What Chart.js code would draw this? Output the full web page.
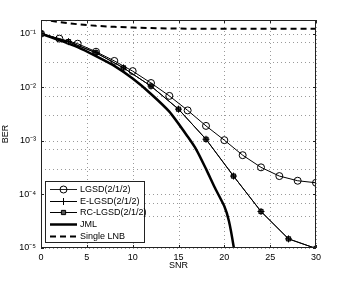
<!DOCTYPE html>
<html>
<head>
  <meta charset="UTF-8">
  <title>BER vs SNR</title>
  <script src="https://cdn.jsdelivr.net/npm/chart.js"></script>
  <style>
    html, body { margin: 0; padding: 0; background: #fff; }
    #wrap { width: 339px; height: 283px; position: relative; }
  </style>
</head>
<body>
  <div id="wrap"><canvas id="berChart"></canvas></div>
  <script>
    // values
    const snrLgsd = [0, 2, 4, 6, 8, 10, 12, 14, 16, 18, 20, 22, 24, 26, 28, 30];
    const berLgsd = [0.1, 0.081, 0.065, 0.046, 0.031, 0.020, 0.012, 0.0069, 0.0037, 0.0019, 0.00103, 0.00054, 0.00032, 0.00022, 0.00018, 0.000165];
    const snrRc = [0, 3, 6, 9, 12, 15, 18, 21, 24, 27, 30];
    const berELgsd = [0.1, 0.071, 0.044, 0.023, 0.0105, 0.0039, 0.00107, 0.00022, 0.000048, 0.0000148, 0.0000098];
    const berRcLgsd = [0.1, 0.071, 0.044, 0.023, 0.0105, 0.0039, 0.00107, 0.00022, 0.000048, 0.0000148, 0.0000098];
    const snrJml = [0, 2, 4, 6, 8, 10, 12, 14, 16, 17, 18, 19, 20, 20.5, 21, 21.3];
    const berJml = [0.1, 0.076, 0.056, 0.038, 0.025, 0.0145, 0.0075, 0.0035, 0.0012, 0.00066, 0.0003, 0.00013, 0.00006, 0.000032, 0.000011, 0.0000045];
    const snrLnb = [0, 2, 4, 6, 8, 10, 12, 14, 16, 20, 25, 30];
    const berLnb = [0.185, 0.165, 0.15, 0.14, 0.134, 0.13, 0.127, 0.125, 0.124, 0.124, 0.124, 0.124];
    const xTicks = [0, 5, 10, 15, 20, 25, 30];
    const yMajor = [-1, -2, -3, -4, -5];
    const supers = { '-': '⁻', '1': '¹', '2': '²', '3': '³', '4': '⁴', '5': '⁵' };

    const pts = (xs, ys) => xs.map((x, i) => ({ x: x, y: ys[i] }));

    const datasets = [
      { label: 'LGSD(2/1/2)', data: pts(snrLgsd, berLgsd), borderColor: '#000', borderWidth: 1,
        pointStyle: 'circle', pointRadius: 3.5, pointBorderColor: '#000', pointBackgroundColor: 'rgba(0,0,0,0)', pointBorderWidth: 1 },
      { label: 'E-LGSD(2/1/2)', data: pts(snrRc, berELgsd), borderColor: '#000', borderWidth: 1,
        pointStyle: 'cross', pointRadius: 3.5, pointBorderColor: '#000', pointBorderWidth: 1 },
      { label: 'RC-LGSD(2/1/2)', data: pts(snrRc, berRcLgsd), borderColor: '#000', borderWidth: 1,
        pointStyle: 'rect', pointRadius: 3, pointBorderColor: '#000', pointBackgroundColor: '#555', pointBorderWidth: 1 },
      { label: 'JML', data: pts(snrJml, berJml), borderColor: '#000', borderWidth: 2.5, pointRadius: 0, tension: 0.2 },
      { label: 'Single LNB', data: pts(snrLnb, berLnb), borderColor: '#000', borderWidth: 2, borderDash: [6, 4], pointRadius: 0 }
    ];
    datasets.forEach(d => { d.fill = false; d.backgroundColor = 'rgba(0,0,0,0)'; });

    // dotted matlab style grid, from the scales' own ticks
    const dottedGrid = {
      id: 'dottedGrid',
      beforeDatasetsDraw(chart) {
        const a = chart.chartArea, c = chart.ctx;
        c.save();
        c.strokeStyle = '#9a9a9a';
        c.lineWidth = 1;
        c.setLineDash([1, 3]);
        chart.scales.x.ticks.forEach(t => {
          const px = Math.round(chart.scales.x.getPixelForValue(t.value)) + 0.5;
          c.beginPath(); c.moveTo(px, a.bottom); c.lineTo(px, a.top); c.stroke();
        });
        chart.scales.y.ticks.forEach(t => {
          const py = Math.round(chart.scales.y.getPixelForValue(t.value)) + 0.5;
          c.beginPath(); c.moveTo(a.left, py); c.lineTo(a.right, py); c.stroke();
        });
        c.restore();
      }
    };

    const frame = {
      id: 'frame',
      afterDraw(chart) {
        const a = chart.chartArea, c = chart.ctx;
        const xs = chart.scales.x, ys = chart.scales.y;
        c.save();
        c.strokeStyle = '#222';
        c.lineWidth = 1;
        c.strokeRect(a.left + 0.5, a.top + 0.5, a.right - a.left - 1, a.bottom - a.top - 1);
        // inward tick marks like the original
        xTicks.forEach(v => {
          const px = Math.round(xs.getPixelForValue(v)) + 0.5;
          c.beginPath();
          c.moveTo(px, a.bottom); c.lineTo(px, a.bottom - 3);
          c.moveTo(px, a.top); c.lineTo(px, a.top + 3);
          c.stroke();
        });
        yMajor.forEach(e => {
          const py = Math.round(ys.getPixelForValue(Math.pow(10, e))) + 0.5;
          c.beginPath();
          c.moveTo(a.left, py); c.lineTo(a.left + 3, py);
          c.moveTo(a.right, py); c.lineTo(a.right - 3, py);
          c.stroke();
        });
        // legend box
        const lx = 45, ly = 181, lw = 99, lh = 61;
        c.fillStyle = '#fff';
        c.fillRect(lx, ly, lw, lh);
        c.strokeRect(lx + 0.5, ly + 0.5, lw, lh);
        c.font = '9px "Liberation Sans", Arial, sans-serif';
        c.textBaseline = 'middle';
        chart.data.datasets.forEach((d, i) => {
          const y = Math.round(ly + 8 + i * 11.7) + 0.5;
          c.beginPath();
          c.lineWidth = d.borderWidth;
          c.setLineDash(d.borderDash || []);
          c.moveTo(50, y); c.lineTo(77, y);
          c.stroke();
          c.setLineDash([]);
          c.lineWidth = 1;
          if (d.pointRadius > 0) {
            c.fillStyle = d.pointBackgroundColor || 'rgba(0,0,0,0)';
            c.strokeStyle = '#000';
            Chart.helpers.drawPoint(c, { pointStyle: d.pointStyle, radius: d.pointRadius, borderWidth: 1 }, 63.5, y);
          }
          c.fillStyle = '#000';
          c.fillText(d.label, 80, y + 0.5);
        });
        c.restore();
      }
    };

    const font9 = { size: 9, family: '"Liberation Sans", Arial, sans-serif' };

    new Chart(document.getElementById('berChart'), {
      type: 'line',
      data: { datasets: datasets },
      options: {
        responsive: true,
        maintainAspectRatio: false,
        animation: false,
        layout: { padding: { left: 0, right: 23, top: 20, bottom: 0 } },
        plugins: { legend: { display: false }, tooltip: { enabled: false } },
        scales: {
          x: {
            type: 'linear', min: 0, max: 30,
            afterFit: s => { s.height = 35; },
            afterBuildTicks: s => { s.ticks = xTicks.map(v => ({ value: v })); },
            grid: { display: false, drawTicks: false },
            border: { display: false },
            ticks: { color: '#000', font: font9, padding: 4, maxRotation: 0 },
            title: { display: true, text: 'SNR', color: '#000', font: font9, padding: { top: 0, bottom: 12 } }
          },
          y: {
            type: 'logarithmic', min: 1e-5, max: 0.18,
            afterFit: s => { s.width = 41; },
            grid: { display: false, drawTicks: false },
            border: { display: false },
            ticks: {
              color: '#000', padding: 5, font: font9,
              callback: v => {
                const e = Math.log10(v);
                if (Math.abs(e - Math.round(e)) > 1e-6 || v > 0.15) return '';
                return '10' + String(Math.round(e)).split('').map(ch => supers[ch]).join('');
              }
            },
            title: { display: true, text: 'BER', color: '#000', font: font9, padding: { top: 0, bottom: 4 } }
          }
        }
      },
      plugins: [dottedGrid, frame]
    });
  </script>
</body>
</html>
